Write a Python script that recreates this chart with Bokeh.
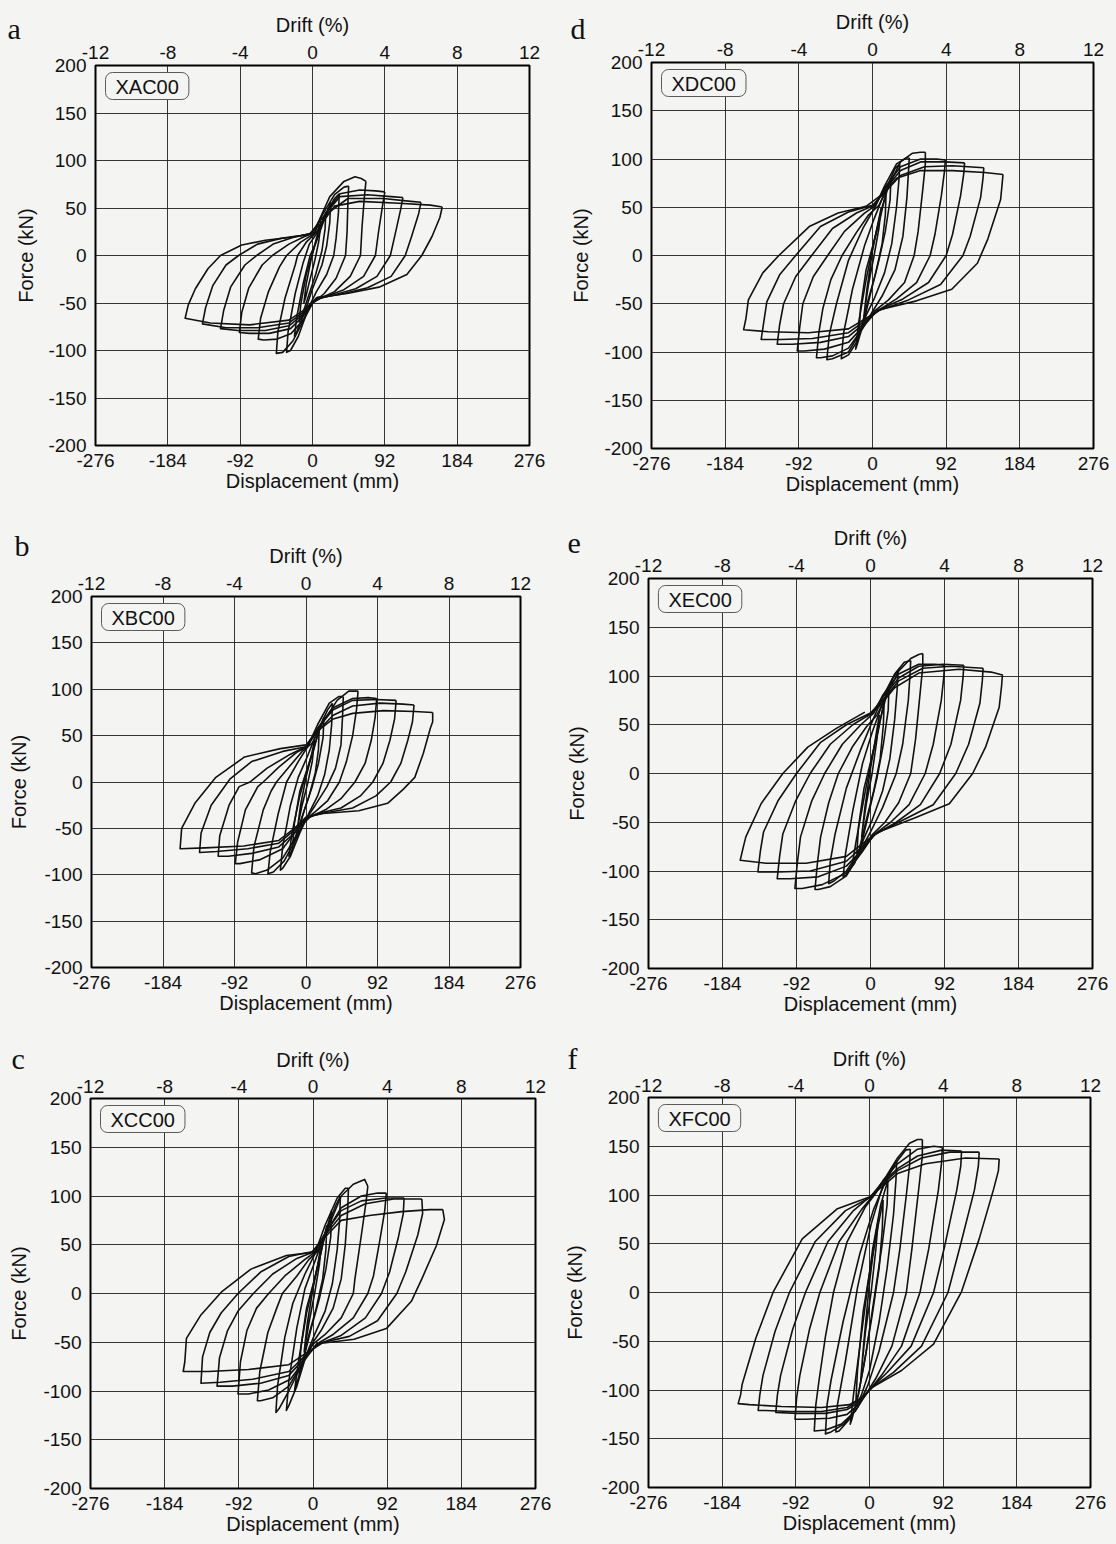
import math
from bokeh.plotting import figure
from bokeh.models import Range1d, LinearAxis, FixedTicker, Label, CustomJSTickFormatter
from bokeh.core.properties import value
from bokeh.layouts import column, row
from bokeh.embed import file_html
from bokeh.resources import INLINE

DISP_TICKS = [-276, -184, -92, 0, 92, 184, 276]
DRIFT_TICKS = [-12, -8, -4, 0, 4, 8, 12]
FORCE_TICKS = [-200, -150, -100, -50, 0, 50, 100, 150, 200]

# ---------------- hysteresis loops (displacement mm / force kN), one list per cycle
XAC00_D = [
    [165, 162, 152, 139, 120, 86, 44, 6, -12, -30, -80, -130, -162, -158, -149, -133, -117, -90, -60, -30, -5, 12, 28, 60, 110, 150, 165],
    [138, 135, 126, 118, 100, 70, 35, 5, -12, -30, -70, -110, -140, -136, -127, -110, -94, -70, -40, -15, 5, 20, 45, 90, 125, 138],
    [115, 112, 105, 99, 82, 55, 25, 4, -12, -30, -60, -95, -117, -113, -104, -86, -71, -50, -25, -3, 15, 35, 70, 100, 115],
    [92, 89, 84, 80, 65, 40, 18, 3, -12, -28, -55, -80, -93, -90, -81, -64, -51, -30, -10, 6, 18, 35, 60, 80, 92],
    [68, 66, 63, 61, 48, 28, 10, 0, -12, -27, -45, -62, -69, -66, -56, -42, -33, -15, 0, 10, 22, 40, 54, 62, 68],
    [46, 45, 44, 42, 30, 15, 0, -10, -25, -38, -46, -44, -35, -22, -19, -8, 2, 12, 28, 40, 46],
    [34, 33, 30, 27, 18, 5, -5, -18, -28, -33, -31, -22, -12, -4, 6, 18, 28, 34],
    [23, 22, 18, 12, 0, -10, -20, -23, -20, -12, -3, 5, 15, 23],
    [17, 16, 12, 4, -6, -14, -17, -15, -8, 2, 10, 17],
    [11, 8, 3, -4, -9, -11, -8, -2, 4, 11],
]
XAC00_F = [
    [51, 40, 20, 0, -20, -33, -40, -44, -58, -68, -73, -71, -66, -52, -35, -14, 0, 11, 16, 19, 22, 34, 52, 57, 55, 53, 51],
    [56, 44, 20, 0, -22, -34, -41, -45, -60, -71, -76, -76, -72, -55, -32, -10, 0, 12, 18, 21, 24, 45, 60, 60, 57, 56],
    [61, 48, 22, 0, -22, -35, -42, -46, -62, -74, -79, -79, -77, -58, -33, -10, 0, 12, 19, 23, 42, 62, 64, 62, 61],
    [67, 52, 25, 0, -22, -36, -43, -47, -64, -77, -82, -82, -81, -60, -34, -10, 0, 12, 20, 25, 46, 65, 69, 68, 67],
    [78, 62, 30, 0, -22, -38, -45, -50, -68, -82, -88, -89, -88, -66, -38, -12, 0, 14, 22, 40, 62, 78, 83, 81, 78],
    [73, 55, 25, 0, -24, -40, -50, -66, -90, -102, -103, -80, -45, -10, 0, 14, 22, 42, 64, 72, 73],
    [65, 45, 18, 0, -20, -38, -55, -85, -100, -102, -80, -40, -8, 12, 24, 45, 60, 65],
    [56, 35, 10, -10, -35, -60, -80, -85, -65, -30, 0, 15, 38, 56],
    [46, 28, 5, -20, -45, -65, -70, -52, -20, 8, 28, 46],
    [36, 15, -5, -28, -45, -50, -30, -5, 15, 36],
]

XBC00_D = [
    [163, 163, 160, 151, 140, 125, 105, 68, 22, 0, -15, -35, -80, -130, -162, -160, -143, -116, -79, -33, 0, 15, 35, 60, 100, 140, 163],
    [139, 137, 131, 122, 109, 90, 60, 20, 0, -15, -35, -75, -115, -137, -135, -122, -98, -70, -30, 0, 15, 35, 60, 95, 125, 139],
    [116, 114, 108, 99, 86, 70, 45, 15, 0, -15, -35, -70, -100, -113, -111, -99, -86, -72, -50, -20, 0, 15, 35, 60, 90, 116],
    [91, 89, 84, 76, 63, 45, 25, 5, -12, -30, -60, -85, -91, -88, -78, -62, -55, -35, -12, 2, 15, 35, 60, 80, 91],
    [67, 65, 60, 52, 43, 28, 12, 0, -12, -30, -50, -65, -70, -67, -55, -45, -38, -20, -5, 8, 20, 40, 55, 67],
    [48, 47, 45, 38, 27, 12, 0, -12, -28, -42, -49, -46, -36, -25, -10, 2, 15, 30, 42, 48],
    [34, 33, 30, 24, 15, 3, -8, -20, -30, -33, -30, -20, -10, 2, 15, 28, 34],
    [23, 22, 16, 8, -2, -12, -20, -22, -18, -8, 2, 12, 23],
    [17, 16, 12, 4, -6, -14, -17, -15, -8, 2, 10, 17],
    [11, 8, 2, -5, -10, -11, -7, 0, 6, 11],
]
XBC00_F = [
    [75, 65, 58, 31, 5, -8, -23, -31, -34, -38, -50, -63, -69, -71, -72, -50, -23, 5, 27, 36, 40, 55, 68, 74, 77, 76, 75],
    [83, 65, 45, 20, 0, -15, -28, -34, -38, -52, -66, -72, -75, -76, -55, -25, 3, 22, 33, 38, 55, 72, 82, 85, 84, 83],
    [88, 68, 45, 20, 0, -15, -28, -34, -39, -55, -70, -77, -80, -80, -58, -25, -5, 0, 15, 30, 38, 58, 78, 88, 89, 88],
    [90, 70, 45, 20, 0, -18, -30, -38, -52, -72, -84, -88, -88, -65, -30, -5, 0, 16, 32, 38, 58, 80, 90, 91, 90],
    [98, 78, 50, 22, 0, -20, -32, -40, -58, -82, -95, -99, -98, -70, -30, -10, 0, 18, 33, 42, 62, 88, 98, 98],
    [92, 70, 40, 15, -5, -25, -40, -60, -85, -97, -99, -75, -35, 0, 22, 38, 62, 85, 92, 92],
    [85, 62, 35, 8, -15, -35, -55, -80, -93, -95, -70, -25, 5, 28, 55, 78, 85],
    [70, 48, 20, -5, -30, -58, -78, -80, -55, -15, 15, 42, 70],
    [58, 35, 10, -15, -40, -60, -66, -45, -10, 15, 35, 58],
    [45, 22, -2, -25, -45, -50, -25, 5, 25, 45],
]

XCC00_D = [
    [161, 163, 153, 135, 122, 91, 51, 11, -10, -30, -80, -130, -161, -159, -157, -139, -113, -77, -33, -2, 15, 35, 70, 110, 145, 161],
    [135, 136, 130, 115, 104, 80, 45, 8, -10, -30, -75, -115, -139, -137, -128, -114, -93, -65, -30, 0, 15, 35, 65, 100, 135],
    [113, 112, 106, 95, 85, 65, 35, 6, -10, -30, -65, -100, -119, -116, -106, -93, -74, -50, -20, 2, 15, 35, 60, 90, 113],
    [91, 89, 83, 75, 68, 50, 25, 4, -10, -28, -55, -80, -93, -90, -82, -70, -55, -35, -10, 5, 18, 35, 60, 80, 91],
    [68, 66, 60, 52, 50, 35, 15, 0, -12, -30, -50, -65, -69, -66, -56, -45, -38, -20, -5, 8, 20, 35, 50, 64, 68],
    [44, 43, 40, 35, 25, 10, 0, -12, -30, -42, -46, -44, -35, -25, -10, 2, 15, 30, 40, 44],
    [34, 33, 30, 24, 15, 2, -8, -20, -30, -33, -30, -20, -10, 2, 15, 28, 34],
    [23, 22, 16, 8, -2, -12, -20, -23, -18, -8, 2, 12, 23],
    [17, 16, 12, 4, -6, -14, -17, -15, -8, 2, 10, 17],
    [11, 8, 2, -5, -10, -11, -7, 0, 6, 11],
]
XCC00_F = [
    [86, 76, 49, 15, -8, -36, -47, -51, -62, -73, -78, -80, -80, -70, -46, -22, 2, 25, 39, 42, 58, 75, 80, 84, 86, 86],
    [97, 82, 60, 22, 0, -28, -44, -51, -64, -80, -88, -91, -92, -65, -40, -20, 0, 22, 38, 43, 60, 80, 92, 97, 97],
    [98, 82, 58, 22, 0, -25, -43, -52, -66, -84, -92, -95, -95, -66, -38, -18, 0, 20, 36, 43, 62, 85, 95, 98, 98],
    [103, 85, 55, 18, 0, -25, -42, -52, -68, -88, -99, -103, -103, -70, -38, -15, 0, 18, 35, 44, 65, 88, 100, 103, 103],
    [110, 95, 60, 15, 0, -25, -42, -52, -70, -95, -107, -110, -110, -80, -40, -15, 0, 18, 35, 45, 70, 100, 112, 117, 110],
    [108, 85, 50, 15, -15, -38, -50, -70, -100, -118, -122, -95, -45, -10, 20, 40, 70, 98, 108, 108],
    [100, 75, 45, 10, -18, -42, -62, -95, -115, -120, -90, -35, 5, 32, 62, 90, 100],
    [85, 58, 25, -5, -35, -68, -92, -100, -70, -20, 15, 50, 85],
    [70, 45, 15, -15, -45, -75, -82, -55, -15, 15, 42, 70],
    [55, 30, 0, -30, -55, -60, -30, 5, 30, 55],
]

XDC00_D = [
    [163, 162, 160, 144, 131, 99, 55, 10, -10, -30, -80, -130, -161, -158, -155, -137, -117, -79, -43, -8, 10, 30, 60, 100, 140, 163],
    [139, 138, 135, 122, 113, 85, 45, 8, -10, -30, -75, -115, -139, -136, -132, -116, -96, -65, -30, 0, 15, 35, 65, 100, 139],
    [115, 114, 110, 100, 92, 70, 38, 6, -10, -30, -65, -100, -119, -116, -111, -96, -76, -50, -20, 2, 15, 35, 60, 90, 115],
    [91, 90, 86, 78, 72, 55, 30, 5, -10, -30, -60, -85, -94, -91, -87, -74, -56, -35, -10, 4, 15, 35, 60, 80, 91],
    [66, 66, 63, 57, 52, 40, 20, 2, -12, -30, -50, -65, -70, -67, -62, -52, -38, -20, -5, 8, 20, 35, 50, 60, 66],
    [46, 45, 43, 38, 28, 12, 0, -12, -30, -50, -57, -54, -45, -30, -12, 3, 15, 30, 42, 46],
    [34, 33, 30, 24, 15, 2, -8, -20, -30, -39, -36, -25, -10, 2, 15, 28, 34],
    [23, 22, 16, 8, -2, -12, -19, -21, -17, -8, 2, 12, 23],
    [17, 16, 12, 4, -6, -14, -17, -15, -8, 2, 10, 17],
    [11, 8, 2, -5, -10, -11, -7, 0, 6, 11],
]
XDC00_F = [
    [84, 75, 58, 17, -8, -35, -47, -56, -66, -76, -80, -79, -77, -65, -46, -18, 0, 30, 44, 51, 62, 80, 88, 88, 86, 84],
    [91, 80, 60, 20, 0, -30, -46, -57, -68, -80, -86, -87, -87, -70, -48, -20, 0, 30, 45, 52, 65, 83, 92, 93, 91],
    [96, 85, 62, 22, 0, -28, -45, -57, -70, -84, -90, -92, -92, -72, -50, -22, 0, 28, 44, 52, 68, 88, 97, 97, 96],
    [99, 88, 62, 22, 0, -28, -45, -58, -72, -90, -97, -99, -99, -75, -50, -22, 0, 25, 44, 52, 70, 92, 100, 100, 99],
    [107, 95, 70, 25, 0, -28, -46, -58, -75, -96, -104, -106, -106, -80, -55, -25, 0, 24, 42, 52, 72, 97, 106, 107, 107],
    [101, 88, 60, 20, -15, -42, -58, -75, -100, -107, -108, -82, -50, -5, 28, 50, 72, 95, 101, 101],
    [95, 78, 50, 12, -18, -45, -62, -90, -103, -107, -80, -35, 10, 38, 65, 90, 95],
    [80, 58, 25, -5, -38, -72, -92, -97, -68, -25, 15, 50, 80],
    [66, 42, 12, -18, -48, -75, -82, -55, -15, 15, 40, 66],
    [50, 28, 0, -30, -58, -65, -35, 5, 30, 50],
]

XEC00_D = [
    [-5, 10, 30, 60, 110, 150, 164, 163, 160, 143, 127, 98, 54, 10, -10, -30, -80, -130, -162, -158, -155, -136, -109, -78, -43, -7],
    [140, 139, 136, 122, 106, 78, 40, 6, -10, -30, -75, -115, -140, -137, -133, -115, -92, -62, -30, 0, 15, 35, 65, 100, 140],
    [116, 115, 112, 100, 86, 62, 32, 5, -10, -30, -65, -100, -116, -113, -109, -93, -75, -50, -22, 2, 15, 35, 60, 90, 116],
    [92, 91, 88, 78, 68, 48, 25, 4, -10, -30, -60, -85, -94, -91, -87, -73, -57, -35, -12, 4, 15, 35, 60, 80, 92],
    [65, 65, 62, 56, 50, 35, 18, 2, -12, -30, -50, -65, -69, -66, -62, -52, -40, -22, -5, 8, 20, 35, 50, 60, 65],
    [50, 49, 47, 40, 32, 15, 0, -12, -30, -45, -52, -50, -44, -30, -12, 3, 15, 30, 42, 50],
    [34, 33, 30, 24, 15, 2, -8, -20, -30, -34, -31, -22, -10, 2, 15, 28, 34],
    [23, 22, 16, 8, -2, -12, -20, -23, -18, -8, 2, 12, 23],
    [17, 16, 12, 4, -6, -14, -17, -15, -8, 2, 10, 17],
    [11, 8, 2, -5, -10, -11, -7, 0, 6, 11],
]
XEC00_F = [
    [58, 68, 88, 103, 107, 104, 101, 90, 68, 27, 0, -31, -46, -60, -72, -85, -92, -92, -89, -75, -65, -31, 0, 27, 46, 63],
    [108, 95, 72, 30, 0, -32, -48, -62, -75, -90, -100, -101, -101, -80, -60, -28, 0, 32, 50, 62, 75, 95, 108, 110, 108],
    [111, 98, 75, 30, 0, -32, -50, -63, -78, -95, -106, -108, -108, -85, -62, -28, 0, 30, 50, 62, 78, 98, 110, 112, 111],
    [111, 98, 75, 30, 0, -32, -50, -63, -80, -102, -114, -118, -118, -92, -65, -28, 0, 30, 50, 62, 80, 102, 112, 112, 111],
    [123, 110, 85, 35, 0, -30, -50, -63, -80, -105, -116, -119, -119, -92, -65, -30, 0, 28, 48, 60, 80, 105, 118, 122, 123],
    [116, 100, 75, 30, 0, -35, -60, -78, -100, -110, -113, -90, -62, -15, 25, 55, 78, 102, 114, 116],
    [105, 85, 55, 15, -18, -48, -66, -92, -104, -106, -82, -38, 10, 42, 72, 98, 105],
    [90, 65, 30, -5, -40, -75, -92, -95, -70, -25, 18, 55, 90],
    [75, 50, 15, -18, -50, -78, -82, -55, -15, 18, 45, 75],
    [60, 35, 0, -30, -58, -65, -35, 5, 35, 60],
]

XFC00_D = [
    [162, 161, 155, 137, 115, 80, 40, 4, -10, -25, -60, -110, -150, -164, -161, -159, -142, -120, -84, -40, 0, 15, 35, 70, 120, 162],
    [137, 136, 131, 114, 98, 65, 30, 2, -12, -28, -60, -100, -130, -139, -137, -133, -118, -100, -68, -30, 2, 15, 35, 65, 100, 137],
    [115, 114, 109, 94, 80, 52, 22, 0, -12, -28, -55, -90, -117, -115, -111, -96, -80, -52, -20, 3, 15, 35, 60, 90, 115],
    [91, 90, 86, 74, 63, 40, 15, -2, -14, -28, -50, -80, -93, -91, -87, -75, -62, -38, -10, 5, 17, 35, 60, 80, 91],
    [66, 66, 62, 53, 46, 28, 8, -5, -18, -35, -55, -69, -67, -63, -55, -45, -28, -5, 8, 20, 35, 50, 60, 66],
    [51, 50, 46, 38, 30, 12, -2, -15, -32, -48, -55, -53, -48, -33, -12, 5, 18, 32, 45, 51],
    [34, 33, 30, 22, 12, 0, -10, -25, -38, -42, -40, -30, -15, 2, 15, 28, 34],
    [23, 22, 16, 6, -4, -14, -22, -24, -20, -8, 4, 14, 23],
    [17, 16, 12, 4, -6, -14, -17, -15, -8, 2, 10, 17],
    [11, 8, 2, -5, -10, -11, -7, 0, 6, 11],
]
XFC00_F = [
    [137, 125, 106, 55, 1, -53, -80, -97, -108, -115, -118, -117, -115, -114, -105, -94, -47, 1, 55, 86, 98, 108, 122, 132, 138, 137],
    [144, 130, 105, 50, 0, -55, -82, -98, -110, -118, -122, -122, -121, -121, -105, -85, -40, 0, 52, 84, 98, 110, 125, 138, 144, 144],
    [145, 130, 105, 48, 0, -55, -82, -100, -112, -120, -124, -124, -123, -105, -85, -38, 0, 52, 84, 100, 112, 127, 140, 146, 145],
    [149, 133, 105, 45, 0, -55, -85, -102, -115, -125, -129, -130, -130, -108, -85, -38, 0, 52, 85, 100, 115, 132, 147, 150, 149],
    [157, 140, 110, 45, 0, -55, -88, -105, -122, -135, -141, -142, -115, -90, -45, 0, 52, 88, 102, 118, 138, 153, 157, 157],
    [147, 130, 100, 45, 0, -60, -95, -118, -135, -143, -145, -115, -90, -30, 40, 85, 110, 132, 146, 147],
    [135, 115, 80, 25, -30, -80, -105, -130, -142, -143, -115, -70, 5, 70, 105, 128, 135],
    [115, 90, 50, -5, -60, -105, -130, -135, -105, -30, 45, 90, 115],
    [95, 65, 25, -20, -70, -105, -112, -80, -20, 30, 65, 95],
    [75, 45, 0, -40, -80, -90, -50, 10, 50, 75],
]

BG = "#f4f4f2"
SANS = "Liberation Sans"
INK = "#111111"
STRIP = 40  # width of the left strip holding the panel letter and the force label
BOX_STYLE = {"background-color": BG}


def no_frame_align(fig):
    try:
        fig.frame_align = False
    except Exception:
        pass


def style_axis(ax, standoff, label_standoff):
    ax.axis_line_color = None
    ax.major_tick_in = 0
    ax.major_tick_out = 0
    ax.minor_tick_in = 0
    ax.minor_tick_out = 0
    ax.major_label_text_font = SANS
    ax.major_label_text_font_size = "19px"
    ax.major_label_text_color = INK
    ax.major_label_standoff = standoff
    ax.axis_label_text_font = SANS
    ax.axis_label_text_font_size = "20px"
    ax.axis_label_text_font_style = "normal"
    ax.axis_label_text_color = INK
    ax.axis_label_standoff = label_standoff
    ax.formatter = CustomJSTickFormatter(code="return String(tick);")


def make_strip(letter, H, top, fh, letter_xy, force_x):
    s = figure(width=STRIP, height=H, x_range=Range1d(0, STRIP), y_range=Range1d(0, H),
               output_backend="svg", toolbar_location=None, x_axis_type=None, y_axis_type=None,
               min_border=0, min_border_left=0, min_border_right=0, min_border_top=0, min_border_bottom=0)
    no_frame_align(s)
    s.outline_line_color = None
    s.background_fill_color = BG
    s.border_fill_color = BG
    lx, ly = letter_xy
    s.text(x=[lx], y=[H - ly], text=[letter], text_align="left", text_baseline="alphabetic",
           text_font=value("Liberation Serif"), text_font_size="30px", text_color=INK)
    s.text(x=[force_x], y=[H - (top + fh / 2.0)], text=["Force (kN)"], angle=math.pi / 2,
           text_align="center", text_baseline="middle",
           text_font=value(SANS), text_font_size="20px", text_color=INK)
    return s


def make_panel(letter, name, D, F, H, left, top, fw, fh, top_so, letter_xy, force_x):
    W = 558 - STRIP
    lb = left - STRIP
    p = figure(width=W, height=H, x_range=Range1d(-276, 276), y_range=Range1d(-200, 200),
               output_backend="svg", toolbar_location=None,
               min_border_left=lb, min_border_right=W - lb - fw,
               min_border_top=top, min_border_bottom=H - top - fh)
    no_frame_align(p)
    p.background_fill_color = BG
    p.border_fill_color = BG
    p.outline_line_color = "black"
    p.outline_line_width = 2

    p.extra_x_ranges = {"drift": Range1d(-12, 12)}
    top_ax = LinearAxis(x_range_name="drift", ticker=FixedTicker(ticks=DRIFT_TICKS), axis_label="Drift (%)")
    p.add_layout(top_ax, "above")

    bx = p.below[0]
    bx.ticker = FixedTicker(ticks=DISP_TICKS)
    bx.axis_label = "Displacement (mm)"
    lyax = p.left[0]
    lyax.ticker = FixedTicker(ticks=FORCE_TICKS)
    style_axis(bx, 8, 0)
    style_axis(top_ax, top_so[0], top_so[1])
    style_axis(lyax, 9, 0)

    p.xgrid.ticker = FixedTicker(ticks=DISP_TICKS)
    p.ygrid.ticker = FixedTicker(ticks=FORCE_TICKS)
    for g in (p.xgrid, p.ygrid):
        g.grid_line_color = "#202020"
        g.grid_line_width = 1
        g.grid_line_alpha = 0.9

    xs, ys = [], []
    for dd, ff in zip(D, F):
        m = min(len(dd), len(ff))
        xs.append(dd[:m])
        ys.append(ff[:m])
    p.multi_line(xs=xs, ys=ys, line_color="#111111", line_width=1.6, line_join="round")

    sx = 552.0 / fw
    sy = 400.0 / fh
    p.add_layout(Label(x=-276 + 10 * sx, y=200 - 7 * sy, text=name, anchor="top_left",
                       text_font=SANS, text_font_size="20px", text_color=INK,
                       background_fill_color=BG, border_line_color="#5a5a5a", border_line_width=1,
                       border_radius=7, padding=dict(left=10, right=10, top=3, bottom=2)))

    s = make_strip(letter, H, top, fh, letter_xy, force_x)
    return row(s, p, styles=BOX_STYLE)


pa = make_panel("a", "XAC00", XAC00_D, XAC00_F, 515, 95, 65, 434, 380, (7, 7), (7, 28), 25)
pd = make_panel("d", "XDC00", XDC00_D, XDC00_F, 515, 93, 62, 442, 386, (7, 7), (12, 28), 22)
pb = make_panel("b", "XBC00", XBC00_D, XBC00_F, 525, 91, 81, 429, 371, (7, 7), (14, 30), 18)
pe = make_panel("e", "XEC00", XEC00_D, XEC00_F, 525, 87, 63, 447, 390, (7, 7), (9, 28), 18)
pc = make_panel("c", "XCC00", XCC00_D, XCC00_F, 504, 90, 58, 445, 390, (6, 6), (11, 18), 18)
pf = make_panel("f", "XFC00", XFC00_D, XFC00_F, 504, 87, 57, 445, 390, (6, 6), (9, 18), 16)

layout = column(row(pa, pd, styles=BOX_STYLE), row(pb, pe, styles=BOX_STYLE),
                row(pc, pf, styles=BOX_STYLE), styles=BOX_STYLE)
open("out.html", "w").write(file_html(layout, INLINE))
